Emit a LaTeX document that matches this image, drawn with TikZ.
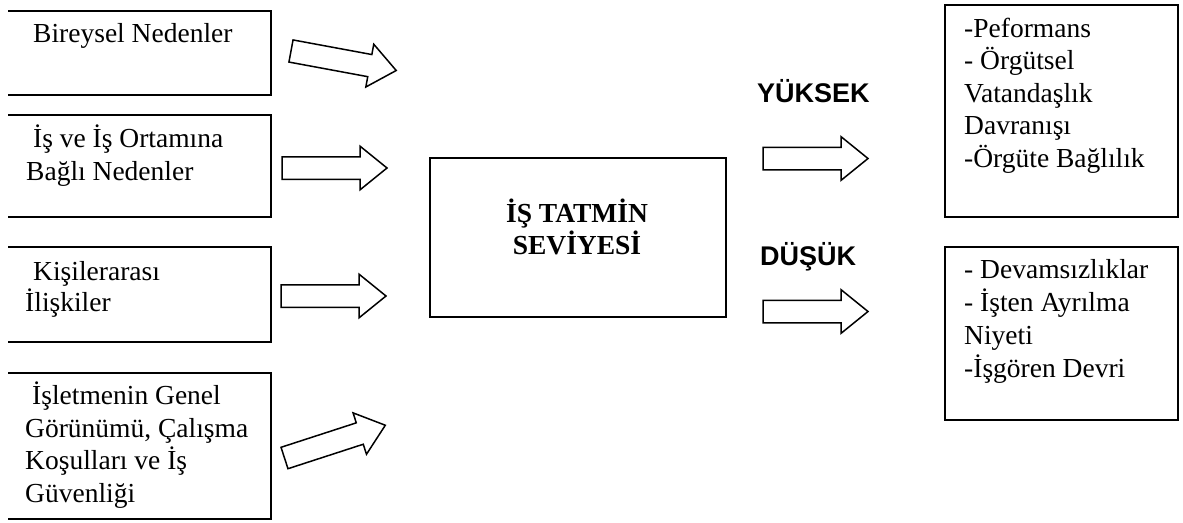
\documentclass[tikz,border=0pt]{standalone}
\usepackage{fontspec}
\setmainfont{Liberation Serif}
\newfontfamily\headsans{Liberation Sans}
\usetikzlibrary{shapes.arrows}

\tikzset{
  frame/.style={line width=2.6pt, line join=miter},
  boxnode/.style={draw, frame, rectangle, inner sep=0pt, outer sep=0pt, anchor=north west},
  openbox/.style={rectangle, inner sep=0pt, outer sep=0pt, anchor=north west},
  % anchor "base" of a multi-line node sits on the baseline of its last line
  bodytext/.style={font=\fontsize{27.5}{32.5}\selectfont, align=left, anchor=base west, inner sep=0pt},
  titletext/.style={font=\fontsize{27.5}{32}\selectfont\bfseries, align=center, anchor=base, inner sep=0pt},
  levellabel/.style={font=\fontsize{27}{32}\headsans\bfseries, anchor=base west, inner sep=0pt},
  blockarrow/.style={single arrow, draw, line width=1.5pt, line join=miter,
    inner xsep=0pt, inner ysep=10.5pt, minimum height=105pt,
    single arrow head extend=10.5pt, single arrow tip angle=78,
    single arrow head indent=0pt, outer sep=0pt, anchor=tail},
}

\begin{document}
\begin{tikzpicture}[x=1pt,y=-1pt]
\useasboundingbox (0,0) rectangle (1183,522);

% cause boxes on the left (open on their left side)
\node[openbox, minimum width=263pt, minimum height=84pt]  (b1) at (8,11)  {};
\node[openbox, minimum width=263pt, minimum height=102pt] (b2) at (8,115) {};
\node[openbox, minimum width=263pt, minimum height=95pt]  (b3) at (8,247) {};
\node[openbox, minimum width=263pt, minimum height=146pt] (b4) at (8,373) {};
\foreach \b in {b1,b2,b3,b4}
  \draw[frame] (\b.north west) -- (\b.north east) -- (\b.south east) -- (\b.south west);

\node[bodytext] (t1) at (25,42)  {\hspace*{8pt}Bireysel Nedenler};
\node[bodytext] (t2) at (26,180) {\hspace*{7pt}İş ve İş Ortamına\\Bağlı Nedenler};
\node[bodytext, font=\fontsize{27.5}{31}\selectfont] (t3) at (25,311) {\hspace*{8pt}Kişilerarası\\İlişkiler};
\node[bodytext] (t4) at (25,502) {\hspace*{7pt}İşletmenin Genel\\Görünümü, Çalışma\\Koşulları ve İş\\Güvenliği};

% arrows into the central box (placed by their tails)
\node[blockarrow, rotate=-10.5, minimum height=107pt] (a1) at (291,51)    {};
\node[blockarrow]                                     (a2) at (282,168)   {};
\node[blockarrow]                                     (a3) at (281,296)   {};
\node[blockarrow, rotate=18, minimum height=106pt]    (a4) at (284.5,458) {};

% central box
\node[boxnode, minimum width=296pt, minimum height=159pt] (c) at (430,158) {};
\node[titletext] (ct) at (577,254) {İŞ TATMİN\\SEVİYESİ};

% outcome levels
\node[levellabel] (hi) at (757,102) {YÜKSEK};
\node[levellabel] (lo) at (760,265) {DÜŞÜK};
\node[blockarrow] (a5) at (763,158.5) {};
\node[blockarrow] (a6) at (763,311.5) {};

% outcome boxes
\node[boxnode, minimum width=233pt, minimum height=212pt] (r1) at (945,5)   {};
\node[boxnode, minimum width=233pt, minimum height=173pt] (r2) at (945,247) {};
\node[bodytext] (rt1) at (964,167) {-Peformans\\- Örgütsel\\Vatandaşlık\\Davranışı\\-Örgüte Bağlılık};
\node[bodytext, font=\fontsize{27.5}{33}\selectfont] (rt2) at (964,377) {- Devamsızlıklar\\- İşten Ayrılma\\Niyeti\\-İşgören Devri};
\end{tikzpicture}
\end{document}
